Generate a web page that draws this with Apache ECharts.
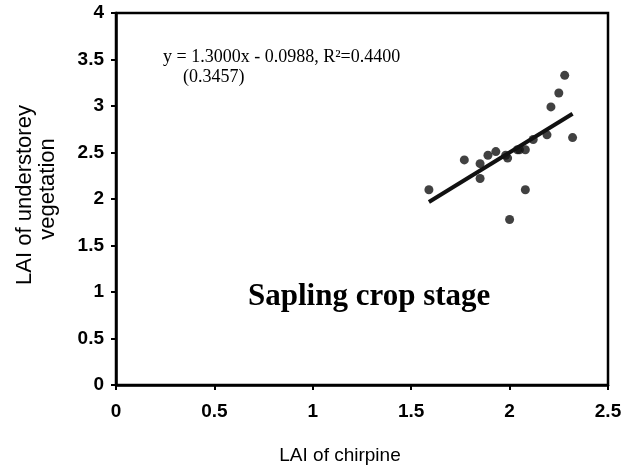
<!DOCTYPE html>
<html>
<head>
<meta charset="utf-8">
<script src="https://cdn.jsdelivr.net/npm/echarts@6/dist/echarts.min.js"></script>
<style>
  html, body { margin: 0; padding: 0; background: #fff; }
  #chart { width: 637px; height: 470px; }
</style>
</head>
<body>
<div id="chart"></div>
<script>
// LAI of chirpine (x) vs LAI of understorey vegetation (y), sapling crop stage
const chirpineLai = [1.59, 1.77, 1.85, 1.85, 1.89, 1.93, 1.98, 1.99, 2.04, 2.05, 2.08, 2.08, 2.00, 2.12, 2.19, 2.21, 2.25, 2.28, 2.32];
const understoreyLai = [2.10, 2.42, 2.38, 2.22, 2.47, 2.51, 2.47, 2.44, 2.53, 2.53, 2.53, 2.10, 1.78, 2.64, 2.69, 2.99, 3.14, 3.33, 2.66];

// fitted regression
const slope = 1.3;
const intercept = -0.0988;
const equationText = 'y = 1.3000x - 0.0988, R\u00b2=0.4400';
const seText = '(0.3457)';

const xTicks = { min: 0, max: 2.5, step: 0.5 };
const yTicks = { min: 0, max: 4, step: 0.5 };

// trend line drawn over the range of the points
const xLo = Math.min(...chirpineLai);
const xHi = Math.max(...chirpineLai);
const trend = [[xLo, slope * xLo + intercept], [xHi, slope * xHi + intercept]];

const chart = echarts.init(document.getElementById('chart'));

const labelFont = {
  color: '#000',
  fontFamily: 'Liberation Sans, Arial, sans-serif',
  fontWeight: 'bold',
  fontSize: 19
};

const option = {
  animation: false,
  backgroundColor: '#fff',
  grid: {
    left: 116, right: 29, top: 13, bottom: 85,
    show: true, borderColor: '#000', borderWidth: 2.5
  },
  xAxis: {
    type: 'value',
    min: xTicks.min, max: xTicks.max, interval: xTicks.step,
    axisLine: { show: true, lineStyle: { color: '#000', width: 2.5 } },
    axisTick: { show: true, inside: false, length: 5, lineStyle: { color: '#000', width: 2 } },
    axisLabel: Object.assign({ margin: 17 }, labelFont),
    splitLine: { show: false }
  },
  yAxis: {
    type: 'value',
    min: yTicks.min, max: yTicks.max, interval: yTicks.step,
    axisLine: { show: true, lineStyle: { color: '#000', width: 2.5 } },
    axisTick: { show: true, inside: false, length: 5, lineStyle: { color: '#000', width: 2 } },
    axisLabel: Object.assign({ margin: 12 }, labelFont),
    splitLine: { show: false }
  },
  series: [
    {
      type: 'scatter',
      data: chirpineLai.map((x, i) => [x, understoreyLai[i]]),
      symbol: 'circle',
      symbolSize: 9,
      itemStyle: { color: '#111' },
      z: 3
    },
    {
      type: 'line',
      data: trend,
      symbol: 'none',
      lineStyle: { color: '#111', width: 4 },
      z: 2
    }
  ],
  graphic: [
    {
      type: 'text', left: 163, top: 48,
      style: { text: equationText, fill: '#000', font: '18px "Liberation Serif", serif' }
    },
    {
      type: 'text', left: 183, top: 68,
      style: { text: seText, fill: '#000', font: '18px "Liberation Serif", serif' }
    },
    {
      type: 'text', left: 248, top: 281,
      style: { text: 'Sapling crop stage', fill: '#000', font: 'bold 31px "Liberation Serif", serif' }
    },
    {
      type: 'text', x: 340, y: 456,
      style: { text: 'LAI of chirpine', fill: '#000', font: '19px "Liberation Sans", sans-serif', align: 'center', verticalAlign: 'middle' }
    },
    {
      type: 'text', x: 25, y: 195, rotation: Math.PI / 2,
      style: { text: 'LAI of understorey', fill: '#000', font: '22px "Liberation Sans", sans-serif', align: 'center', verticalAlign: 'middle' }
    },
    {
      type: 'text', x: 48, y: 189, rotation: Math.PI / 2,
      style: { text: 'vegetation', fill: '#000', font: '22px "Liberation Sans", sans-serif', align: 'center', verticalAlign: 'middle' }
    }
  ]
};

chart.setOption(option);
</script>
</body>
</html>
